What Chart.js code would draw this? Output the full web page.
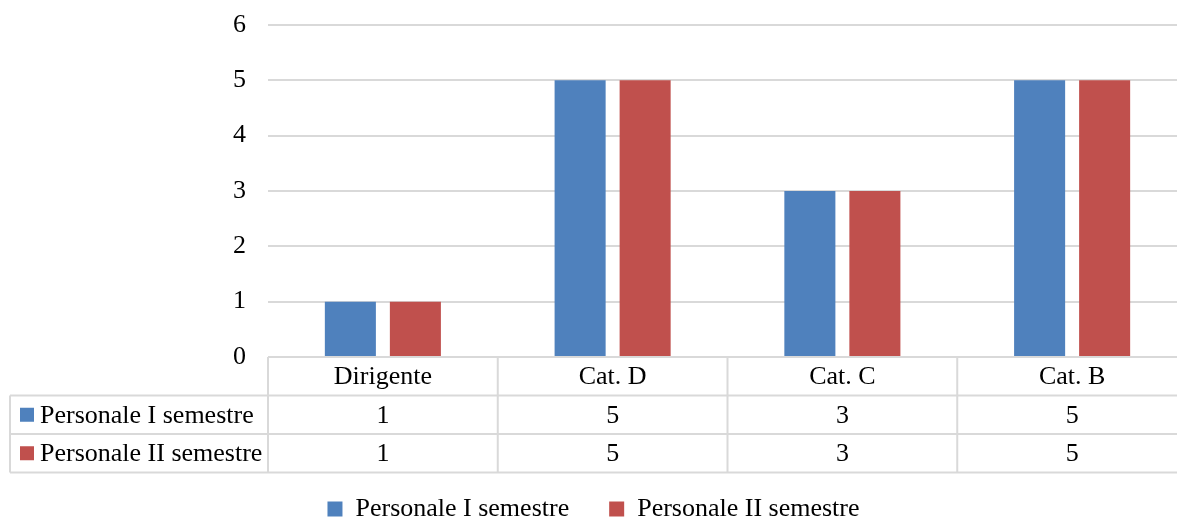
<!DOCTYPE html>
<html>
<head>
<meta charset="utf-8">
<script src="https://cdn.jsdelivr.net/npm/chart.js@4.4.1/dist/chart.umd.min.js"></script>
<style>
  body { margin: 0; background: #fff; overflow: hidden; }
  #wrap { width: 1200px; height: 532px; }
</style>
</head>
<body>
<div id="wrap"><canvas id="myChart" width="1200" height="532"></canvas></div>
<script>
/* data */
const categories = ['Dirigente', 'Cat. D', 'Cat. C', 'Cat. B'];
const seriesNames = ['Personale I semestre', 'Personale II semestre'];
const firstSemester = [1, 5, 3, 5];
const secondSemester = [1, 5, 3, 5];
const yTicks = [0, 1, 2, 3, 4, 5, 6];

const blue = '#4F81BD';
const red = '#C0504D';
const lineGrey = '#d9d9d9';
const fontName = "'Liberation Serif', 'Times New Roman', serif";
const fontSize = 26;

Chart.defaults.font.family = fontName;
Chart.defaults.font.size = fontSize;
Chart.defaults.color = '#000';

/* data table under the plot */
const dataTable = {
    id: 'dataTable',
    afterDraw(chart) {
        const ctx = chart.ctx;
        const x = chart.scales.x;
        const top = chart.chartArea.bottom;
        const rowH = 38.5;
        const leftEdge = 10;
        const colW = (x.right - x.left) / categories.length;

        ctx.save();
        ctx.strokeStyle = lineGrey;
        ctx.lineWidth = 2;
        ctx.beginPath();
        ctx.moveTo(x.left, top);
        ctx.lineTo(x.right, top);
        for (let r = 1; r <= 3; r++) {
            ctx.moveTo(leftEdge, top + r * rowH);
            ctx.lineTo(x.right, top + r * rowH);
        }
        ctx.moveTo(leftEdge, top + rowH);
        ctx.lineTo(leftEdge, top + 3 * rowH);
        for (let i = 0; i <= categories.length; i++) {
            const px = x.left + i * colW;
            ctx.moveTo(px, top);
            ctx.lineTo(px, top + 3 * rowH);
        }
        ctx.stroke();

        ctx.font = fontSize + 'px ' + fontName;
        ctx.fillStyle = '#000';
        ctx.textAlign = 'center';
        ctx.textBaseline = 'middle';
        categories.forEach(function(cat, i) {
            ctx.fillText(cat, x.getPixelForValue(i), top + rowH / 2 + 1);
        });
        chart.data.datasets.forEach(function(ds, d) {
            const cy = top + (d + 1.5) * rowH + 1;
            ds.data.forEach(function(v, i) {
                ctx.fillText(String(v), x.getPixelForValue(i), cy);
            });
            ctx.fillStyle = ds.backgroundColor;
            ctx.fillRect(20, cy - 8, 14, 14);
            ctx.fillStyle = '#000';
            ctx.textAlign = 'left';
            ctx.fillText(ds.label, 40, cy);
            ctx.textAlign = 'center';
        });
        ctx.restore();
    }
};

var ctx = document.getElementById('myChart').getContext('2d');

var chart = new Chart(ctx, {
    type: 'bar',
    data: {
        labels: categories,
        datasets: [{
            label: seriesNames[0],
            backgroundColor: blue,
            data: firstSemester,
        },
        {
            label: seriesNames[1],
            backgroundColor: red,
            data: secondSemester,
        }]
    },
    options: {
        responsive: false,
        animation: false,
        categoryPercentage: 0.566,
        barPercentage: 0.785,
        layout: { padding: { top: 25, right: 13, left: 0, bottom: 0 } },
        scales: {
            x: {
                grid: { display: false },
                border: { display: false },
                ticks: { display: false },
                afterFit: function(s) { s.height = 99; }
            },
            y: {
                min: 0,
                max: 6,
                afterBuildTicks: function(s) { s.ticks = yTicks.map(v => ({ value: v })); },
                grid: { color: lineGrey, lineWidth: 2, drawTicks: false },
                border: { display: false },
                ticks: { padding: 22 },
                afterFit: function(s) {
                    s.width = 268;
                    s.paddingTop = 0;
                    s.paddingBottom = 0;
                }
            }
        },
        plugins: {
            legend: {
                position: 'bottom',
                labels: { boxWidth: 15, boxHeight: 15, padding: 40 }
            },
            tooltip: { enabled: false }
        }
    },
    plugins: [dataTable]
});
</script>
</body>
</html>
